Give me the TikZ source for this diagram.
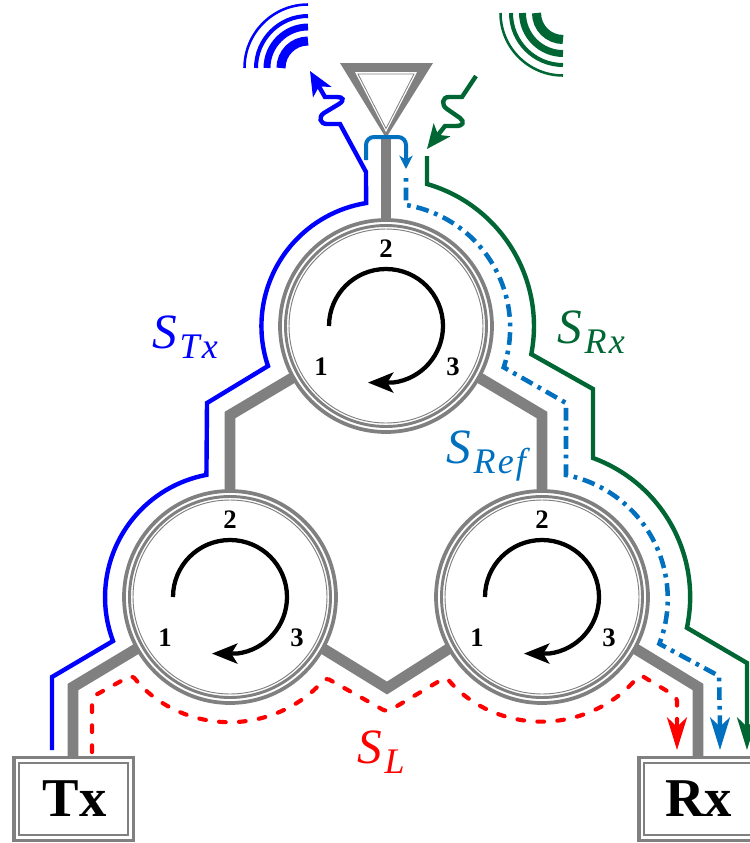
\documentclass[tikz,border=0pt]{standalone}
\usepackage{fontspec}
\setmainfont{Liberation Serif}
\usetikzlibrary{arrows.meta}

\definecolor{ringgray}{rgb}{0.5,0.5,0.5}
\definecolor{txblue}{rgb}{0,0,1}
\definecolor{rxgreen}{rgb}{0,0.4,0.2}
\definecolor{refblue}{rgb}{0,0.44,0.75}
\definecolor{leakred}{rgb}{1,0,0}

\tikzset{
  ringa/.style={circle,draw=ringgray,fill=white,line width=2.8pt,minimum size=159pt,inner sep=0pt,outer sep=0pt},
  ringb/.style={draw=ringgray,line width=2.2pt},
  ringc/.style={draw=ringgray,line width=0.7pt},
  boxa/.style={rectangle,draw=ringgray,fill=white,line width=2.6pt,minimum width=89.6pt,minimum height=61.9pt,inner sep=0pt,outer sep=0pt,font=\fontsize{41}{41}\selectfont\bfseries},
  boxb/.style={draw=ringgray,line width=1.3pt},
  feed/.style={draw=ringgray,line width=8.2pt},
  bigtip/.style={-{Stealth[length=24.5pt,width=15pt,inset=7pt]}},
  wavetip/.style={-{Stealth[length=18pt,width=15.5pt,inset=4.5pt]}},
  txpath/.style={draw=txblue,line width=3.3pt},
  rxpath/.style={draw=rxgreen,line width=3.3pt},
  refpath/.style={draw=refblue,line width=3pt},
  refdash/.style={refpath,line width=3.4pt,dash pattern=on 2.8pt off 4.4pt on 9.5pt off 4.4pt},
  leakpath/.style={draw=leakred,line width=3.1pt,line cap=round,dash pattern=on 5pt off 10pt,rounded corners=3pt},
  turn/.style={draw=black,line width=3.2pt,-{Stealth[length=19pt,width=15pt,inset=4.5pt]}},
  portno/.style={font=\fontsize{20}{20}\selectfont\bfseries,inner sep=0pt},
  siglabel/.style={anchor=base west,inner sep=0pt}
}
\newcommand{\sigtext}[1]{\fontsize{37}{37}\selectfont\itshape S\kern2pt\raisebox{-7.5pt}{\fontsize{27}{27}\selectfont\addfontfeatures{LetterSpace=6}#1}}

\begin{document}
\begin{tikzpicture}[x=0.75pt,y=0.75pt,yscale=-1,xscale=1]
\useasboundingbox (0,0) rectangle (750,843);

%Shape: Circle, three rings each
\node [ringa] (ctop) at (386,326) {};
\draw [ringb] (ctop.center) circle (100.5);
\draw [ringc] (ctop.center) circle (97);
\node [ringa] (cleft) at (230,597) {};
\draw [ringb] (cleft.center) circle (100.5);
\draw [ringc] (cleft.center) circle (97);
\node [ringa] (cright) at (542,597) {};
\draw [ringb] (cright.center) circle (100.5);
\draw [ringc] (cright.center) circle (97);

%Shape: Rectangle, Tx and Rx
\node [boxa] (tx) at (73.5,799) {\kern2pt Tx};
\draw [boxb] ([shift={(5,5)}]tx.north west) rectangle ([shift={(-5,-5)}]tx.south east);
\node [boxa] (rx) at (698.5,799) {Rx};
\draw [boxb] ([shift={(5,5)}]rx.north west) rectangle ([shift={(-5,-5)}]rx.south east);

%Shape: Triangle, antenna
\coordinate (anttip) at (386,138);
\draw [draw=none,fill=ringgray] (340,63) -- (433,63) -- (anttip) -- cycle;
\draw [draw=none,fill=white] (355,72) -- (417,72) -- (386,132) -- cycle;
\draw [ringc,line width=0.6pt] (358,74) -- (414,74) -- (386,128.5) -- cycle;

%Straight Lines, feed lines
\draw [feed] (anttip) -- (ctop.north);
\draw [feed] (ctop.209) -- (230,415) -- (cleft.north);
\draw [feed] (ctop.331) -- (542,415) -- (cright.north);
\draw [feed] (cleft.209) -- (73,687) -- (tx.north -| 73,0);
\draw [feed] (cleft.331) -- (387,688) -- (cright.209);
\draw [feed] (cright.331) -- (698,687) -- (rx.north -| 698,0);

%Shape: Arc, rotation arrows
\draw [turn] ([shift={(-57,0)}]ctop.center) arc[start angle=180,end angle=443,radius=57] -- ++(-25,0);
\draw [turn] ([shift={(-57,0)}]cleft.center) arc[start angle=180,end angle=443,radius=57] -- ++(-25,0);
\draw [turn] ([shift={(-57,0)}]cright.center) arc[start angle=180,end angle=443,radius=57] -- ++(-25,0);

%Port numbers
\node [portno] (ctop1) at ([shift={(-65,41)}]ctop.center) {1};
\node [portno] (ctop2) at ([shift={(0,-77)}]ctop.center) {2};
\node [portno] (ctop3) at ([shift={(67,41)}]ctop.center) {3};
\node [portno] (cleft1) at ([shift={(-65,41)}]cleft.center) {1};
\node [portno] (cleft2) at ([shift={(0,-77)}]cleft.center) {2};
\node [portno] (cleft3) at ([shift={(67,41)}]cleft.center) {3};
\node [portno] (cright1) at ([shift={(-65,41)}]cright.center) {1};
\node [portno] (cright2) at ([shift={(0,-77)}]cright.center) {2};
\node [portno] (cright3) at ([shift={(67,41)}]cright.center) {3};

%Curve Lines, transmit path
\coordinate (txstart) at (52,750);
\coordinate (txwave) at (310,71);
\draw [txpath,wavetip] (txstart) -- (52,677) -- (113,641) arc[start angle=159.4,end angle=259.3,radius=124.5] -- (207,403) -- (268,366) arc[start angle=161.3,end angle=260.8,radius=124.6] -- (366,172) -- (340,124) -- (327,124) .. controls (320,124) and (318,117) .. (324,113) -- (339,104) .. controls (345,100) and (343,97) .. (337,97) -- (325,97) -- (txwave);

%Curve Lines, receive path
\coordinate (rxwave) at (476,76);
\coordinate (rxtip) at (427,149);
\draw [rxpath,wavetip] (rxwave) -- (462,97) -- (449,97) .. controls (442,97) and (441,105) .. (447,109) -- (460,118) .. controls (465,122) and (463,126) .. (456,126) -- (445,126) -- (rxtip);
\coordinate (rxstart) at (427,156);
\coordinate (rxend) at (747,750);
\draw [rxpath,bigtip] (rxstart) -- (427,184) arc[start angle=-73.9,end angle=10.9,radius=148] -- (593,389) -- (593,458) arc[start angle=-69.9,end angle=12,radius=148] -- (747,663) -- (rxend);

%Curve Lines, reflected path
\coordinate (refstart) at (366,160);
\coordinate (refmid) at (406,169);
\draw [refpath,rounded corners=6pt,-{Stealth[length=10pt,width=10pt,inset=3pt]}] (refstart) -- (366,137) -- (406,137) -- (refmid);
\coordinate (refcont) at (406,178);
\coordinate (refend) at (720,750);
\draw [refdash] (refcont) -- (406,205) arc[start angle=-80.6,end angle=18.5,radius=124.5] -- (566,403) -- (566,475) arc[start angle=-78.9,end angle=21,radius=126] -- (719,676) -- (720,725);
\draw [refpath,bigtip] (720,720) -- (refend);

%Curve Lines, leakage path
\coordinate (leakstart) at (92,752);
\coordinate (leakend) at (677,750);
\draw [leakpath] (leakstart) -- (92,697) -- (132,675) arc[start angle=141.5,end angle=40,radius=125] -- (387,712) -- (446,677) arc[start angle=140,end angle=38.5,radius=125] -- (677,697) -- (677,722);
\draw [leakpath,dash pattern=,bigtip] (677,720) -- (leakend);

%Shape: Arc, radiated rings
\coordinate (wavetx) at (308,68);
\draw [draw=txblue,line width=6.8pt] ([shift={(-27,0)}]wavetx) arc[start angle=180,end angle=270,radius=27];
\draw [draw=txblue,line width=5.2pt] ([shift={(-41,0)}]wavetx) arc[start angle=180,end angle=270,radius=41];
\draw [draw=txblue,line width=3pt] ([shift={(-52,0)}]wavetx) arc[start angle=180,end angle=270,radius=52];
\draw [draw=txblue,line width=1.9pt] ([shift={(-63.5,0)}]wavetx) arc[start angle=180,end angle=270,radius=63.5];
\coordinate (waverx) at (563,13);
\draw [draw=rxgreen,line width=6.8pt] ([shift={(-26.5,0)}]waverx) arc[start angle=180,end angle=90,radius=26.5];
\draw [draw=rxgreen,line width=5.2pt] ([shift={(-40.5,0)}]waverx) arc[start angle=180,end angle=90,radius=40.5];
\draw [draw=rxgreen,line width=3pt] ([shift={(-52,0)}]waverx) arc[start angle=180,end angle=90,radius=52];
\draw [draw=rxgreen,line width=1.9pt] ([shift={(-62.5,0)}]waverx) arc[start angle=180,end angle=90,radius=62.5];

%Labels
\node [siglabel,text=txblue] (stx) at (152,348) {\sigtext{Tx}};
\node [siglabel,text=rxgreen] (srx) at (557,343) {\sigtext{Rx}};
\node [siglabel,text=refblue] (sref) at (446,463) {\sigtext{Ref}};
\node [siglabel,text=leakred] (sl) at (357,763) {\sigtext{L}};

\end{tikzpicture}
\end{document}
